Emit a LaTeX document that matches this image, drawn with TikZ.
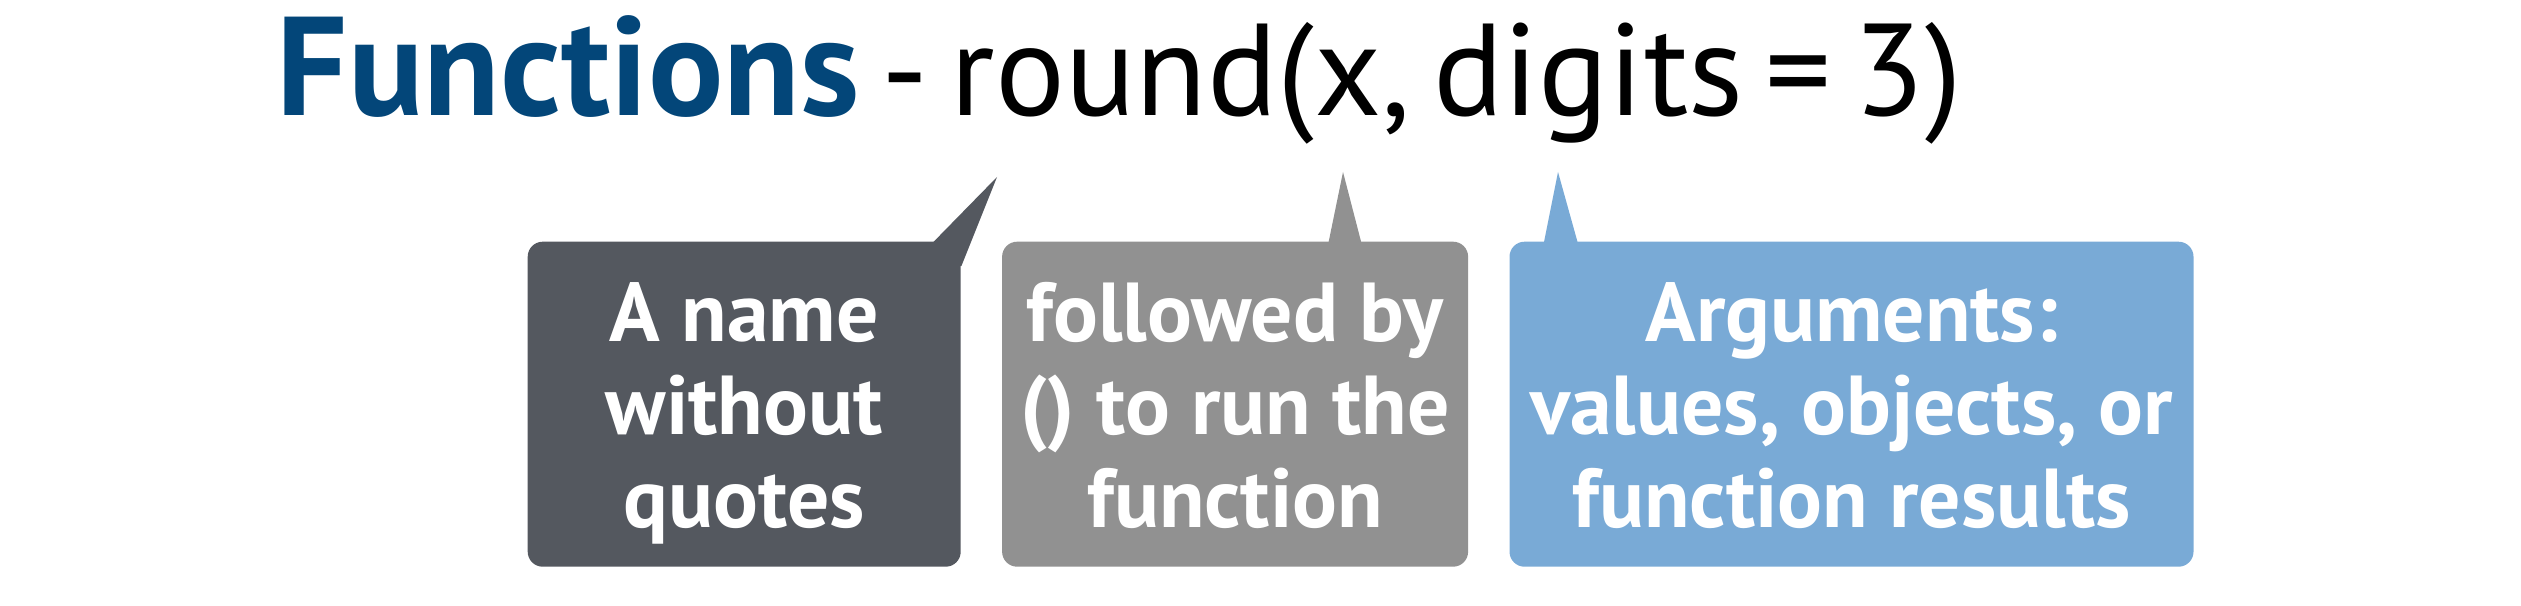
\documentclass[tikz,border=0pt]{standalone}
\usepackage{fontspec}
\setmainfont{PT Sans}
\usetikzlibrary{positioning,calc}
\definecolor{navy}{HTML}{034679}
\definecolor{slate}{HTML}{54585F}
\definecolor{grey}{HTML}{919191}
\definecolor{sky}{HTML}{79AAD6}
\newcommand{\titlefont}{\fontsize{37.2}{46}\selectfont\spaceskip=.17em\relax}
\tikzset{bubble/.style={rounded corners=1.5mm,minimum height=32.5mm,inner sep=0pt,text height=26.4mm,text depth=1.7mm,text=white,align=center,font=\bfseries\fontsize{23.8}{26.5}\selectfont}}
\begin{document}
\begin{tikzpicture}[x=0.1mm,y=-0.1mm,node distance=4mm]
\useasboundingbox (0,0) rectangle (2521,606);
\node[anchor=base west,inner sep=0pt,font=\titlefont] (title) at (276,116) {\textcolor{navy}{\fontsize{40}{46}\selectfont\bfseries Functions} - round(x, digits = 3)};
\node[bubble,fill=slate,minimum width=43.3mm,anchor=north west] (name) at (527,241) {A name\\without\\quotes};
\node[bubble,fill=grey,minimum width=46.6mm,right=of name] (paren) {followed by\\() to run the\\function};
\node[bubble,fill=sky,minimum width=68.4mm,right=of paren] (args) {Arguments:\\values, objects, or\\function results};
\coordinate (t1) at (997,177);
\coordinate (t2) at (1343,172);
\coordinate (t3) at (1558,172);
\fill[slate] ($(name.north east)+(-29,2)$)--(t1)--($(name.north east)+(0,25)$)--($(name.north east)+(-29,25)$)--cycle;
\fill[grey] ($(paren.north west)+(327,2)$)--(t2)--($(paren.north west)+(360,2)$)--cycle;
\fill[sky] ($(args.north west)+(35,2)$)--(t3)--($(args.north west)+(69,2)$)--cycle;
\end{tikzpicture}
\end{document}
